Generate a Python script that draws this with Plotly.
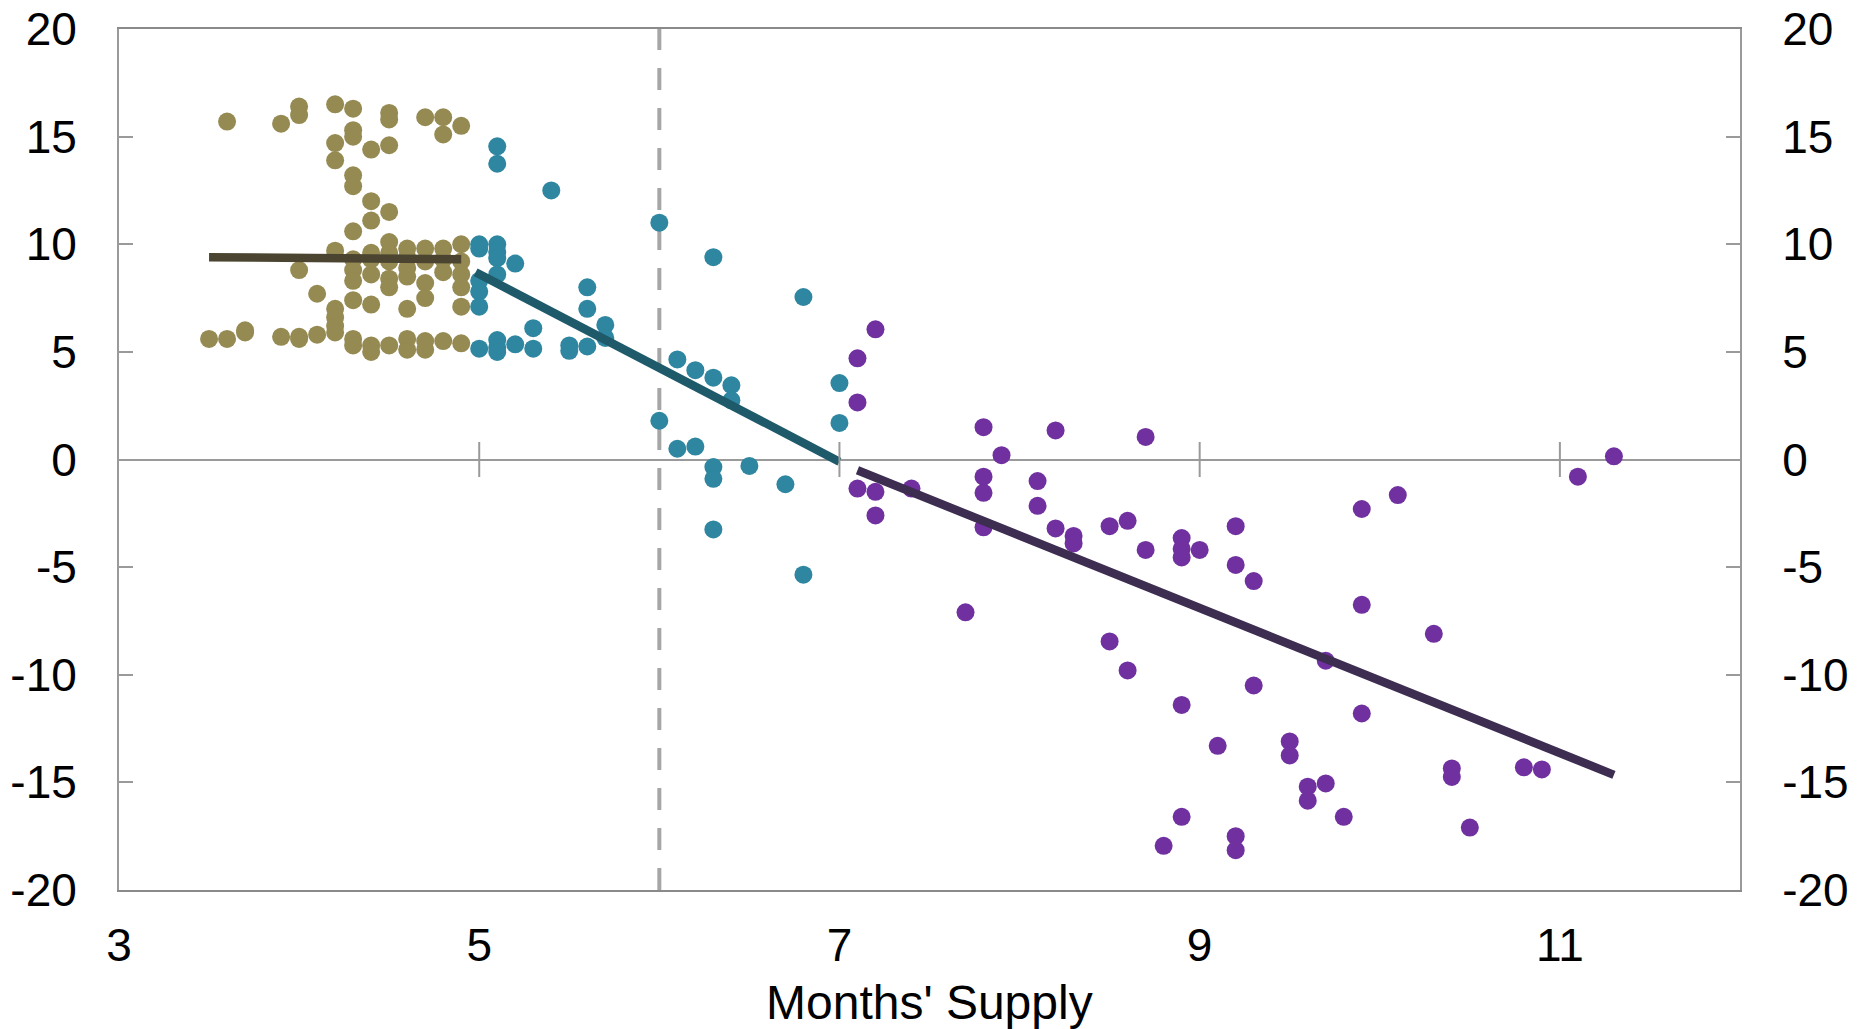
import plotly.graph_objects as go

# ---------------- data ----------------
olive_cols = {
    3.5: [5.6],
    3.6: [15.7, 5.6],
    3.7: [5.9, 6.0],
    3.9: [15.6, 5.7],
    4.0: [16.4, 16.0, 8.8, 5.7, 5.6],
    4.1: [7.7, 5.8],
    4.2: [16.5, 14.7, 13.9, 9.7, 7.0, 6.6, 6.2, 5.9],
    4.3: [16.3, 15.3, 15.0, 13.2, 12.7, 10.6, 9.3, 8.8, 8.3, 7.4, 5.6, 5.3],
    4.4: [14.4, 12.0, 11.1, 9.6, 9.3, 8.6, 7.2, 5.3, 5.0],
    4.5: [16.1, 15.8, 14.6, 11.5, 10.1, 9.6, 9.2, 8.4, 8.0, 5.3],
    4.6: [9.8, 9.4, 8.9, 8.5, 7.0, 5.6, 5.1],
    4.7: [15.9, 9.8, 9.2, 8.2, 7.5, 5.5, 5.1],
    4.8: [15.9, 15.1, 9.8, 9.3, 8.7, 5.5],
    4.9: [15.5, 10.0, 9.2, 8.6, 8.0, 7.1, 5.4],
}
teal_cols = {
    5.0: [10.0, 9.8, 8.3, 7.8, 7.1, 5.15],
    5.1: [14.55, 13.74, 10.0, 9.65, 9.35, 8.6, 5.55, 5.2, 5.0],
    5.2: [9.1, 5.35],
    5.3: [6.1, 5.15],
    5.4: [12.5],
    5.5: [5.3, 5.05],
    5.6: [8.0, 7.0, 5.25],
    5.7: [6.25, 5.65],
    6.0: [11.0, 1.8],
    6.1: [4.65, 0.5],
    6.2: [4.15, 0.6],
    6.3: [9.4, 3.8, -0.35, -0.9, -3.25],
    6.4: [3.45, 2.75],
    6.5: [-0.3],
    6.7: [-1.15],
    6.8: [7.55, -5.35],
    7.0: [3.55, 1.7],
}
purple_cols = {
    7.1: [4.7, 2.65, -1.35],
    7.2: [6.05, -1.5, -2.6],
    7.4: [-1.35],
    7.7: [-7.1],
    7.8: [1.5, -0.8, -1.55, -3.15],
    7.9: [0.2],
    8.1: [-1.0, -2.15],
    8.2: [1.35, -3.2],
    8.3: [-3.55, -3.9],
    8.5: [-3.1, -8.45],
    8.6: [-2.85, -9.8],
    8.7: [1.05, -4.2],
    8.8: [-17.95],
    8.9: [-3.65, -4.15, -4.55, -11.4, -16.6],
    9.0: [-4.2],
    9.1: [-13.3],
    9.2: [-3.1, -4.9, -17.5, -18.15],
    9.3: [-5.65, -10.5],
    9.5: [-13.1, -13.75],
    9.6: [-15.2, -15.85],
    9.7: [-9.35, -15.05],
    9.8: [-16.6],
    9.9: [-2.3, -6.75, -11.8],
    10.1: [-1.65],
    10.3: [-8.1],
    10.4: [-14.35, -14.75],
    10.5: [-17.1],
    10.8: [-14.3],
    10.9: [-14.4],
    11.1: [-0.8],
    11.3: [0.15],
}

# fitted-line endpoints
olive_fit_x = [3.5, 4.9]
olive_fit_y = [9.4, 9.3]
teal_fit_x = [4.98, 7.0]
teal_fit_y = [8.7, -0.1]
purple_fit_x = [7.1, 11.3]
purple_fit_y = [-0.5, -14.65]

threshold_x = 6
x_ticks = [3, 5, 7, 9, 11]
y_ticks = [-20, -15, -10, -5, 0, 5, 10, 15, 20]
y_ticktext = [str(v) for v in y_ticks]
x_title = "Months' Supply"


def flatten(cols):
    xs, ys = [], []
    for x, vals in cols.items():
        for v in vals:
            xs.append(x)
            ys.append(v)
    return xs, ys


olive_x, olive_y = flatten(olive_cols)
teal_x, teal_y = flatten(teal_cols)
purple_x, purple_y = flatten(purple_cols)

# ---------------- styling ----------------
OLIVE = "#958A52"
TEAL = "#2E86A0"
PURPLE = "#7030A0"
OLIVE_LINE = "#4A4430"
TEAL_LINE = "#1F5A6A"
PURPLE_LINE = "#3D2D50"
AXIS_GREY = "#9a9a9a"
FONT = "Liberation Sans, Arial, sans-serif"

fig = go.Figure()

for xs, ys, c in [(olive_x, olive_y, OLIVE), (teal_x, teal_y, TEAL), (purple_x, purple_y, PURPLE)]:
    fig.add_trace(go.Scatter(x=xs, y=ys, mode="markers",
                             marker=dict(size=18, color=c, line=dict(width=0)),
                             hoverinfo="x+y"))

for xs, ys, c in [(olive_fit_x, olive_fit_y, OLIVE_LINE), (teal_fit_x, teal_fit_y, TEAL_LINE),
                  (purple_fit_x, purple_fit_y, PURPLE_LINE)]:
    fig.add_trace(go.Scatter(x=xs, y=ys, mode="lines",
                             line=dict(color=c, width=8.5), hoverinfo="skip"))

# tick marks crossing the zero line (x-axis crosses at 0)
fig.add_trace(go.Scatter(x=x_ticks[1:], y=[0] * (len(x_ticks) - 1), mode="markers",
                         marker=dict(symbol="line-ns-open", size=25, color=AXIS_GREY,
                                     line=dict(color=AXIS_GREY, width=2)),
                         hoverinfo="skip"))

# invisible trace to activate right axis
fig.add_trace(go.Scatter(x=[x_ticks[0]], y=[0], yaxis="y2", mode="markers",
                         marker=dict(opacity=0), hoverinfo="skip"))

fig.add_vline(x=threshold_x, line=dict(color="#A6A6A6", width=4, dash="22px,18px"),
              layer="below")

# x-axis title placed below the tick labels
fig.add_annotation(text=x_title, xref="paper", yref="paper", x=0.5, y=-0.131,
                   xanchor="center", yanchor="middle", showarrow=False,
                   font=dict(size=48, family=FONT, color="black"))

fig.update_layout(
    width=1866, height=1029,
    margin=dict(l=119, r=126, t=29, b=139),
    paper_bgcolor="white", plot_bgcolor="white",
    showlegend=False,
    font=dict(family=FONT, color="black", size=46),
    xaxis=dict(range=[3, 12], tickvals=x_ticks, ticks="", showgrid=False,
               showline=True, linecolor="#8a8a8a", linewidth=2, mirror=True,
               zeroline=False, ticklabelstandoff=14, automargin=False,
               ticklabeloverflow="allow",
               tickfont=dict(size=46)),
    yaxis=dict(range=[-20, 20], tickvals=y_ticks, ticktext=y_ticktext,
               ticks="inside", ticklen=14, tickcolor=AXIS_GREY, tickwidth=2,
               showgrid=False, showline=True, linecolor=AXIS_GREY, linewidth=2,
               zeroline=True, zerolinecolor=AXIS_GREY, zerolinewidth=2,
               automargin=False, ticklabeloverflow="allow",
               ticklabelstandoff=31, tickfont=dict(size=46)),
    yaxis2=dict(range=[-20, 20], tickvals=y_ticks, ticktext=y_ticktext,
                overlaying="y", side="right", automargin=False,
                ticklabeloverflow="allow",
                ticks="inside", ticklen=14, tickcolor=AXIS_GREY, tickwidth=2,
                showgrid=False, showline=True, linecolor=AXIS_GREY, linewidth=2,
                zeroline=False, ticklabelstandoff=31, tickfont=dict(size=46)),
)

fig.write_html("out.html",
               config={"displayModeBar": False},
               post_script="document.body.style.margin='0';document.body.style.overflow='hidden';")
